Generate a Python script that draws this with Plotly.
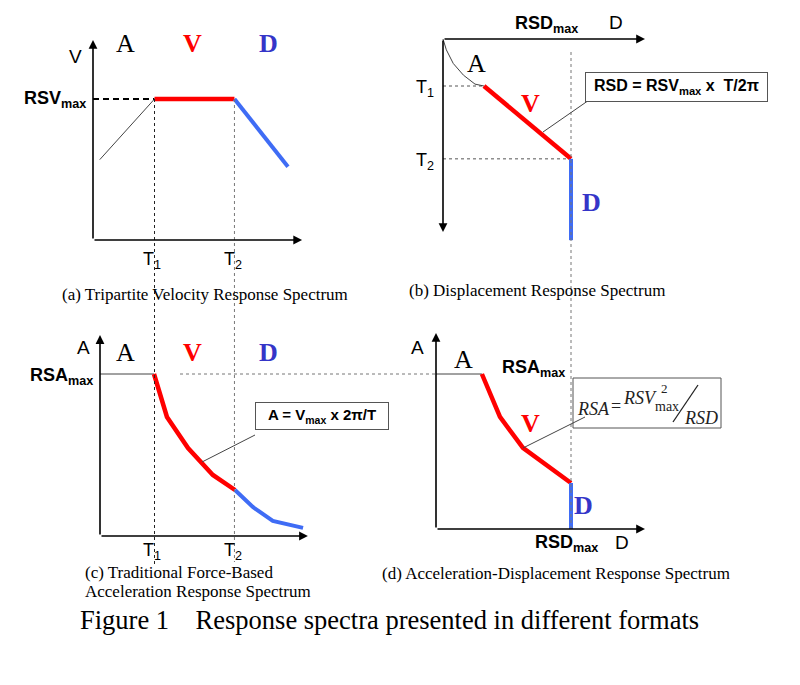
import plotly.graph_objects as go

# ---------------- data (schematic values) ----------------
T1 = 1.0
T2_a = 2.3
RSV_max = 1.0
RSD_max = 1.0
RSA_max = 1.0

# panel (a): tripartite velocity spectrum  (x = period T, y = V)
a_T_acc = [0.11, 1.0]
a_V_acc = [0.57, 1.0]
a_T_vel = [1.0, 2.3]
a_V_vel = [1.0, 1.0]
a_T_dis = [2.3, 3.17]
a_V_dis = [1.0, 0.52]

# panel (b): displacement spectrum (x = D, y = T downward)
b_D_acc = [0.0, 0.026, 0.08, 0.16, 0.25, 0.32]
b_T_acc = [0.0, 0.23, 0.52, 0.77, 0.96, 1.0]
b_D_vel = [0.32, 1.0]
b_T_vel = [1.0, 2.55]
b_D_dis = [1.0, 1.0]
b_T_dis = [2.55, 4.28]

# panel (c): force-based acceleration spectrum (x = T, y = A)
c_T_acc = [0.0, 1.0]
c_A_acc = [1.0, 1.0]
c_T_vel = [1.0, 1.24, 1.63, 2.09, 2.5]
c_A_vel = [1.0, 0.735, 0.543, 0.377, 0.284]
c_T_dis = [2.5, 2.83, 3.2, 3.76]
c_A_dis = [0.284, 0.179, 0.093, 0.05]

# panel (d): ADRS (x = D, y = A)
d_D_acc = [0.0, 0.34]
d_A_acc = [1.0, 1.0]
d_D_vel = [0.34, 0.474, 0.644, 0.844, 1.0]
d_A_vel = [1.0, 0.723, 0.523, 0.394, 0.297]
d_D_dis = [1.0, 1.0]
d_A_dis = [0.297, 0.0]

# ---------------- layout helpers ----------------
OFF = 8                      # page body margin
W, H = 800 - OFF, 685 - OFF
RED = "#ff0000"
BLUE = "#3f6cf5"
DBLUE = "#3535c8"
SERIF = "Liberation Serif"
SANS = "Liberation Sans"


def px(x):
    return (x - OFF) / W


def py(y):
    return 1 - (y - OFF) / H


fig = go.Figure()


def axes(idx, left, right, top, bottom, ox, oy, sx, sy, down=False):
    sfx = "" if idx == 1 else str(idx)
    xr = [(left - ox) / sx, (right - ox) / sx]
    if down:
        yr = [(bottom - oy) / sy, (top - oy) / sy]
    else:
        yr = [(oy - bottom) / sy, (oy - top) / sy]
    common = dict(visible=False, showgrid=False, zeroline=False, fixedrange=True)
    fig.update_layout(**{
        "xaxis" + sfx: dict(domain=[px(left), px(right)], range=xr, anchor="y" + sfx, **common),
        "yaxis" + sfx: dict(domain=[py(bottom), py(top)], range=yr, anchor="x" + sfx, **common),
    })


axes(1, 80, 310, 30, 250, 93, 240, 61.5, 141)
axes(2, 433, 655, 30, 250, 443, 39, 128, 47, down=True)
axes(3, 88, 315, 325, 545, 100, 536, 54, 162)
axes(4, 425, 655, 325, 540, 436, 529, 135, 155)


def line(x, y, k, color, width, dash=None):
    sfx = "" if k == 1 else str(k)
    fig.add_trace(go.Scatter(x=x, y=y, mode="lines", xaxis="x" + sfx, yaxis="y" + sfx,
                             line=dict(color=color, width=width, dash=dash),
                             hoverinfo="skip", showlegend=False))


annotations = []
shapes = []


def arrow(k, x, y):
    sfx = "" if k == 1 else str(k)
    annotations.append(dict(xref="x" + sfx, yref="y" + sfx, axref="x" + sfx, ayref="y" + sfx,
                            x=x, y=y, ax=0, ay=0, text="", showarrow=True,
                            arrowhead=2, arrowsize=1.1, arrowwidth=1.6, arrowcolor="black"))


def text(x, y, t, size, family, color="black", xanchor="center", yanchor="middle"):
    annotations.append(dict(xref="paper", yref="paper", x=px(x), y=py(y), text=t,
                            showarrow=False, xanchor=xanchor, yanchor=yanchor,
                            font=dict(size=size, family=family, color=color)))


def pline(x0, y0, x1, y1, color="#444", width=1, dash=None):
    shapes.append(dict(type="line", xref="paper", yref="paper", x0=px(x0), y0=py(y0),
                       x1=px(x1), y1=py(y1), line=dict(color=color, width=width, dash=dash)))


# ---------------- panel (a) ----------------
line([0, T1], [RSV_max, RSV_max], 1, "black", 2, "6px,4px")
line(a_T_acc, a_V_acc, 1, "#444", 1)
line(a_T_vel, a_V_vel, 1, RED, 4.5)
line(a_T_dis, a_V_dis, 1, BLUE, 4)
arrow(1, 0, 1.418)
arrow(1, 3.40, 0)

# ---------------- panel (b) ----------------
line([0, b_D_vel[0]], [T1, T1], 2, "#555", 1, "3px,3px")
line([0, RSD_max], [b_T_vel[1], b_T_vel[1]], 2, "#555", 1, "3px,3px")
line(b_D_acc, b_T_acc, 2, "#444", 1)
line(b_D_vel, b_T_vel, 2, RED, 4.5)
line(b_D_dis, b_T_dis, 2, BLUE, 4)
arrow(2, 1.578, 0)
arrow(2, 0, 4.106)

# ---------------- panel (c) ----------------
line(c_T_acc, c_A_acc, 3, "#444", 1)
line(c_T_vel, c_A_vel, 3, RED, 4.5)
line(c_T_dis, c_A_dis, 3, BLUE, 4)
arrow(3, 0, 1.24)
arrow(3, 3.85, 0)

# ---------------- panel (d) ----------------
line(d_D_acc, d_A_acc, 4, "#444", 1)
line(d_D_vel, d_A_vel, 4, RED, 4.5)
line(d_D_dis, d_A_dis, 4, BLUE, 4)
arrow(4, 0, 1.265)
arrow(4, 1.548, 0)

# ---------------- cross-panel guide lines ----------------
shapes.append(dict(type="line", xref="x", yref="paper", x0=T1, x1=T1, y0=py(99), y1=py(566),
                   line=dict(color="#222", width=1, dash="3px,3px")))
shapes.append(dict(type="line", xref="x", yref="paper", x0=T2_a, x1=T2_a, y0=py(99), y1=py(562),
                   line=dict(color="#777", width=1, dash="3px,3px")))
shapes.append(dict(type="line", xref="x2", yref="paper", x0=RSD_max, x1=RSD_max, y0=py(52), y1=py(530),
                   line=dict(color="#777", width=1, dash="3px,3px")))
shapes.append(dict(type="line", xref="paper", yref="y3", x0=px(180), x1=px(436), y0=RSA_max, y1=RSA_max,
                   line=dict(color="#777", width=1, dash="3px,3px")))

# leader lines
pline(592, 98, 543, 132)
pline(255, 435, 202, 462)
pline(585, 417, 523, 448)

# ---------------- labels ----------------
# panel a
text(75, 57, "V", 19, SANS)
text(125, 44, "A", 26, SERIF)
text(192, 44, "<b>V</b>", 26, SERIF, RED)
text(268, 44, "<b>D</b>", 26, SERIF, DBLUE)
text(88, 100, "<b>RSV<sub>max</sub></b>", 18, SANS, xanchor="right")
text(152, 261, "T<sub>1</sub>", 18, SANS)
text(233, 261, "T<sub>2</sub>", 18, SANS)
text(205, 294, "(a) Tripartite Velocity Response Spectrum", 17, SERIF)

# panel b
text(546, 25, "<b>RSD<sub>max</sub></b>", 18, SANS)
text(616, 23, "D", 19, SANS)
text(425, 88, "T<sub>1</sub>", 18, SANS)
text(425, 161, "T<sub>2</sub>", 18, SANS)
text(477, 63, "A", 26, SERIF)
text(530, 103, "<b>V</b>", 26, SERIF, RED)
text(591, 203, "<b>D</b>", 26, SERIF, DBLUE)
annotations.append(dict(xref="paper", yref="paper", x=px(676), y=py(87), showarrow=False,
                        text="<b>RSD = RSV<sub>max</sub> x  T/2π</b>",
                        font=dict(size=16, family=SANS, color="black"),
                        bgcolor="white", bordercolor="#555", borderwidth=1, borderpad=3,
                        width=175, height=22, xanchor="center", yanchor="middle"))
text(537, 290, "(b) Displacement Response Spectrum", 17, SERIF)

# panel c
text(83, 347, "A", 19, SANS)
text(125, 352, "A", 26, SERIF)
text(192, 352, "<b>V</b>", 26, SERIF, RED)
text(268, 352, "<b>D</b>", 26, SERIF, DBLUE)
text(95, 376, "<b>RSA<sub>max</sub></b>", 18, SANS, xanchor="right")
text(152, 551, "T<sub>1</sub>", 18, SANS)
text(233, 551, "T<sub>2</sub>", 18, SANS)
annotations.append(dict(xref="paper", yref="paper", x=px(322), y=py(416), showarrow=False,
                        text="<b>A = V<sub>max</sub> x 2π/T</b>",
                        font=dict(size=15, family=SANS, color="black"),
                        bgcolor="white", bordercolor="#555", borderwidth=1, borderpad=3,
                        width=126, height=20, xanchor="center", yanchor="middle"))
text(83, 572, "(c) Traditional Force-Based", 17, SERIF, xanchor="left")
text(83, 591, "Acceleration Response Spectrum", 17, SERIF, xanchor="left")

# panel d
text(418, 347, "A", 19, SANS)
text(463, 359, "A", 26, SERIF)
text(500, 368, "<b>RSA<sub>max</sub></b>", 18, SANS, xanchor="left")
text(530, 423, "<b>V</b>", 26, SERIF, RED)
text(583, 505, "<b>D</b>", 26, SERIF, DBLUE)
text(533, 543, "<b>RSD<sub>max</sub></b>", 18, SANS, xanchor="left")
text(622, 542, "D", 19, SANS)
shapes.append(dict(type="rect", xref="paper", yref="paper", x0=px(573), x1=px(721), y0=py(378), y1=py(428),
                   line=dict(color="#555", width=1), fillcolor="white", layer="below"))
text(593, 409, "<i>RSA</i>", 18, SERIF, "#222")
text(616, 406, "=", 18, SERIF, "#222")
text(640, 398, "<i>RSV</i>", 18, SERIF, "#222")
text(664, 389, "2", 13, SERIF, "#222")
text(667, 406, "max", 14, SERIF, "#222")
pline(673, 422, 698, 385, "#222", 1.3)
text(701, 418, "<i>RSD</i>", 18, SERIF, "#222")
text(556, 573, "(d) Acceleration-Displacement Response Spectrum", 17, SERIF)

# figure title
text(78, 620, "Figure 1\u00a0\u00a0\u00a0\u00a0Response spectra presented in different formats", 26.5, SERIF,
     xanchor="left")

fig.update_layout(width=W, height=H, margin=dict(l=0, r=0, t=0, b=0),
                  paper_bgcolor="white", plot_bgcolor="rgba(0,0,0,0)",
                  annotations=annotations, shapes=shapes, showlegend=False)

fig.write_html("out.html")
